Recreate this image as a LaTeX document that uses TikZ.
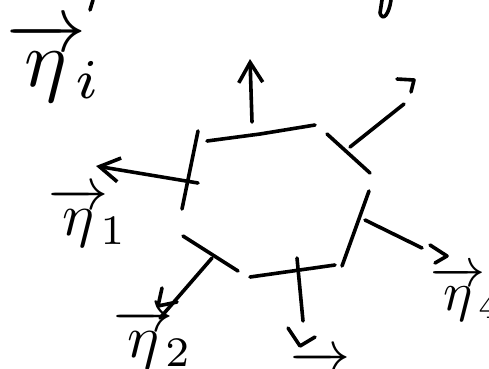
\documentclass[tikz,border=0pt]{standalone}
\usepackage{amsmath}
\usepackage{tikz}
\usetikzlibrary{arrows.meta}

\begin{document}
\begin{tikzpicture}[x=1pt, y=-1pt,
    pen/.style={line width=3.6pt, line cap=round, line join=round},
    normal/.style={pen, -{Straight Barb[length=20pt, width=24pt]}},
    lbl/.style={inner sep=0pt, scale=#1},
]
\useasboundingbox (0,0) rectangle (489,368);

%% Polygon sides (hand drawn, left open at the corners)
\draw[pen] (207,141) -- (260,134) -- (315,125);
\draw[pen] (198,131) -- (182,209);
\draw[pen] (327,134) -- (370,173);
\draw[pen] (369,191) -- (342,266);
\draw[pen] (250,277) -- (335,265);
\draw[pen] (183,236) -- (238,271);

%% Feet and ends of the normals
\coordinate (n0a) at (252,122); \coordinate (n0b) at (250,59);
\coordinate (n1a) at (198,183); \coordinate (n1b) at (96,166);
\coordinate (n2a) at (212,258); \coordinate (n2b) at (160,318);
\coordinate (n3a) at (297,258); \coordinate (n3b) at (303,321);
\coordinate (n4a) at (365,220); \coordinate (n4b) at (422,248);
\coordinate (n5a) at (350,147); \coordinate (n5b) at (404,104);

%% Normals
\draw[normal] (n0a) -- (n0b);
\draw[normal] (n1a) -- (n1b);
\draw[pen] (n2a) -- (n2b);
\draw[pen] (n3a) -- (n3b);
\draw[pen] (n4a) -- (n4b);
\draw[pen] (n5a) -- (n5b);

%% Loose arrow heads
\draw[pen] (162,288) -- (158,306) -- (177,302);
\draw[pen] (288,328) -- (300,346) -- (315,337);
\draw[pen] (430,245) -- (447,256) -- (435,263);
\draw[pen] (397,79) -- (414,80) -- (411,92);

%% Cut off strokes at the top
\draw[pen] (93,0) -- (90,10);
\draw[pen] (391,0) .. controls (389,14) and (383,22) .. (380,13) -- (382,0);

%% Labels
\node[lbl=8]   (ei) at (54,62) {$\overrightarrow{\eta}_{\!i}$};
\node[lbl=6]   (e1) at (88,217) {$\overrightarrow{\eta}_{\!1}$};
\node[lbl=6]   (e2) at (153,339) {$\overrightarrow{\eta}_{\!2}$};
\node[lbl=6]   (e3) at (330,380) {$\overrightarrow{\eta}_{\!3}$};
\node[lbl=5.5] (e4) at (467,294) {$\overrightarrow{\eta}_{\!4}$};
\end{tikzpicture}
\end{document}
